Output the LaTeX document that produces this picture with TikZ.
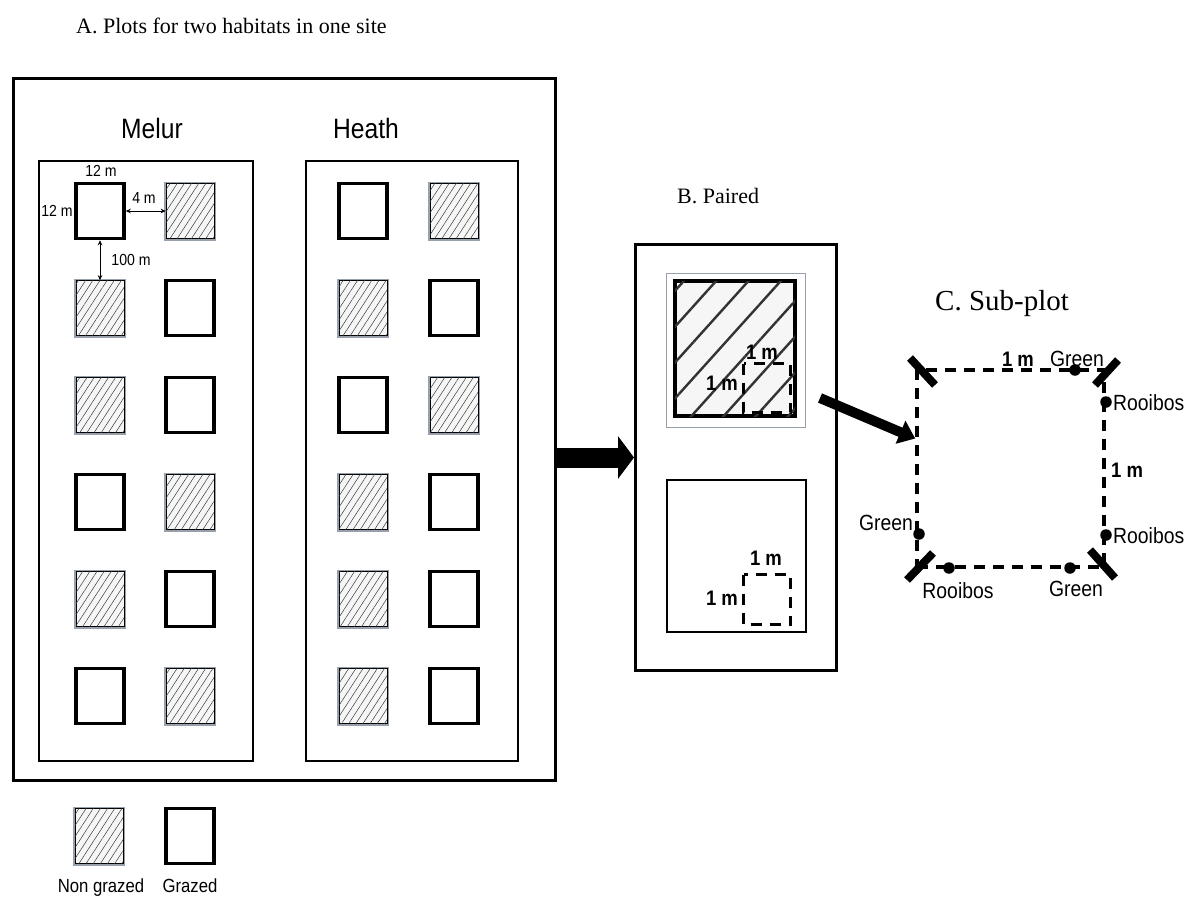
\documentclass[tikz,border=0pt]{standalone}
\usepackage{fontspec}
\setmainfont{Liberation Serif}
\newfontfamily\arialn[FakeStretch=0.88]{Liberation Sans}
\usetikzlibrary{arrows.meta,patterns.meta}
\definecolor{rim}{HTML}{98A1AB}
\definecolor{hatchbg}{HTML}{F6F6F6}
\definecolor{hatchln}{HTML}{3A3A3A}
\tikzset{
  panel/.style={draw=black, line width=3.5pt, rectangle, inner sep=0},
  grazed/.style={draw=black, line width=3.5pt, fill=white, rectangle, inner sep=0,
    minimum width=48pt, minimum height=55pt},
  nongrazed/.style={rectangle, inner sep=0, minimum width=48pt, minimum height=55pt,
    preaction={draw=rim, line width=4pt}, fill=hatchbg, draw=black, line width=0.6pt,
    postaction={pattern={Lines[angle=57,distance=6pt,line width=0.5pt]}, pattern color=hatchln}},
  subline/.style={draw=black, line width=3pt, dash pattern=on 11pt off 8pt},
  dim/.style={line width=0.8pt, {Stealth[length=5pt,width=4.5pt]}-{Stealth[length=5pt,width=4.5pt]}},
  fatarrow/.style={line width=10pt, -{Triangle[length=16pt,width=24pt]}},
  bar/.style={line width=8pt},
  dot/.style={circle, fill=black, inner sep=0, minimum size=11.5pt},
  ttl/.style={font=\fontsize{22}{26}\selectfont, inner sep=0, anchor=base west},
  lab/.style={font=\arialn\fontsize{16}{18}\selectfont, inner sep=0},
  hab/.style={font=\arialn\fontsize{28}{32}\selectfont, inner sep=0},
  key/.style={font=\arialn\fontsize{19}{22}\selectfont, inner sep=0, anchor=base},
  bm/.style={font=\arialn\bfseries\fontsize{21}{24}\selectfont, inner sep=0},
  tea/.style={font=\arialn\fontsize{22}{25}\selectfont, inner sep=0},
}

\begin{document}
\begin{tikzpicture}[x=1pt, y=-1pt]
  \useasboundingbox (0,0) rectangle (1194,897);

  % A. two habitats in one site
  \node[ttl] at (76,33) {A. Plots for two habitats in one site};
  \node[panel, minimum width=542pt, minimum height=702pt] (siteA) at (284.5,429.5) {};
  \node[panel, line width=2pt, minimum width=214pt, minimum height=600pt] (melur) at (146,461) {};
  \node[panel, line width=2pt, minimum width=212pt, minimum height=600pt] (heath) at (412,461) {};
  \node[hab] at (152,128) {Melur};
  \node[hab] at (366,128) {Heath};

  \foreach \a/\b [count=\r] in {grazed/nongrazed, nongrazed/grazed, nongrazed/grazed,
                                grazed/nongrazed, nongrazed/grazed, grazed/nongrazed} {
    \node[\a] (m\r1) at (100,114+97*\r) {};
    \node[\b] (m\r2) at (190,114+97*\r) {};
  }
  \foreach \a/\b [count=\r] in {grazed/nongrazed, nongrazed/grazed, grazed/nongrazed,
                                nongrazed/grazed, nongrazed/grazed, nongrazed/grazed} {
    \node[\a] (h\r1) at (363,114+97*\r) {};
    \node[\b] (h\r2) at (454,114+97*\r) {};
  }

  % plot sizes and spacing
  \draw[dim] (m11.east) -- (m12.west);
  \draw[dim] (m11.south) -- (m21.north);
  \node[lab] at (101,171) {12 m};
  \node[lab] at (57,211) {12 m};
  \node[lab] at (144,198) {4 m};
  \node[lab] at (131,260) {100 m};

  % legend
  \node[nongrazed] (keyN) at (99,836) {};
  \node[grazed] (keyG) at (190,836) {};
  \node[key] at (101,892) {Non grazed};
  \node[key] at (190,892) {Grazed};

  % B. paired plots
  \node[ttl] at (677,203) {B. Paired};
  \node[panel, line width=3pt, minimum width=201pt, minimum height=426pt] (pairB) at (736,457.5) {};
  \draw[-{Triangle[length=16pt,width=42pt]}, line width=20pt] (siteA.east |- pairB.west) -- (pairB.west);

  \draw[rim, line width=1pt] (666,273) rectangle (805,427);
  \node[rectangle, inner sep=0, draw=black, line width=4pt, fill=hatchbg,
    minimum width=120pt, minimum height=135pt,
    postaction={pattern={Lines[angle=48,distance=24pt,line width=2.4pt]}, pattern color=black!80}]
    (pairN) at (735,348.5) {};
  \draw[subline] (743.5,363.5) rectangle (790.5,412.5);
  \node[bm] at (762,352) {1 m};
  \node[bm] at (722,383) {1 m};

  \node[panel, line width=2.5pt, minimum width=139pt, minimum height=152pt] (pairG) at (736.5,556) {};
  \draw[subline] (743.5,574.5) rectangle (790.5,624.5);
  \node[bm] at (766,558) {1 m};
  \node[bm] at (722,598) {1 m};

  % C. sub-plot with tea bags
  \node[ttl, font=\fontsize{29}{33}\selectfont] at (935,310) {C. Sub-plot};
  \node[subline, line width=3.5pt, rectangle, inner sep=0, minimum width=187pt, minimum height=197pt] (subC) at (1010.5,468.5) {};
  \coordinate (tail) at (820,398);
  \draw[fatarrow] (tail) -- ([yshift=30pt]subC.west);

  \draw[bar] (910,358) -- (935,385);
  \draw[bar] (1118,360) -- (1095,385);
  \draw[bar] (907,580) -- (933,553);
  \draw[bar] (1090,550) -- (1115,578);

  \node[dot] (gTop) at (1075,370) {};
  \node[dot] (rRightA) at (1106,402) {};
  \node[dot] (rRightB) at (1106,535) {};
  \node[dot] (gLeft) at (919,534) {};
  \node[dot] (rBot) at (949,568) {};
  \node[dot] (gBot) at (1070,568) {};

  \node[bm, anchor=base] at (1018,366) {1 m};
  \node[bm, anchor=base west] at (1111,477) {1 m};
  \node[tea, anchor=base] at (1077,366) {Green};
  \node[tea, anchor=base west] at (1113,410) {Rooibos};
  \node[tea, anchor=base west] at (1113,543) {Rooibos};
  \node[tea, anchor=base east] at (913,530) {Green};
  \node[tea, anchor=base] at (958,598) {Rooibos};
  \node[tea, anchor=base] at (1076,596) {Green};
\end{tikzpicture}
\end{document}
